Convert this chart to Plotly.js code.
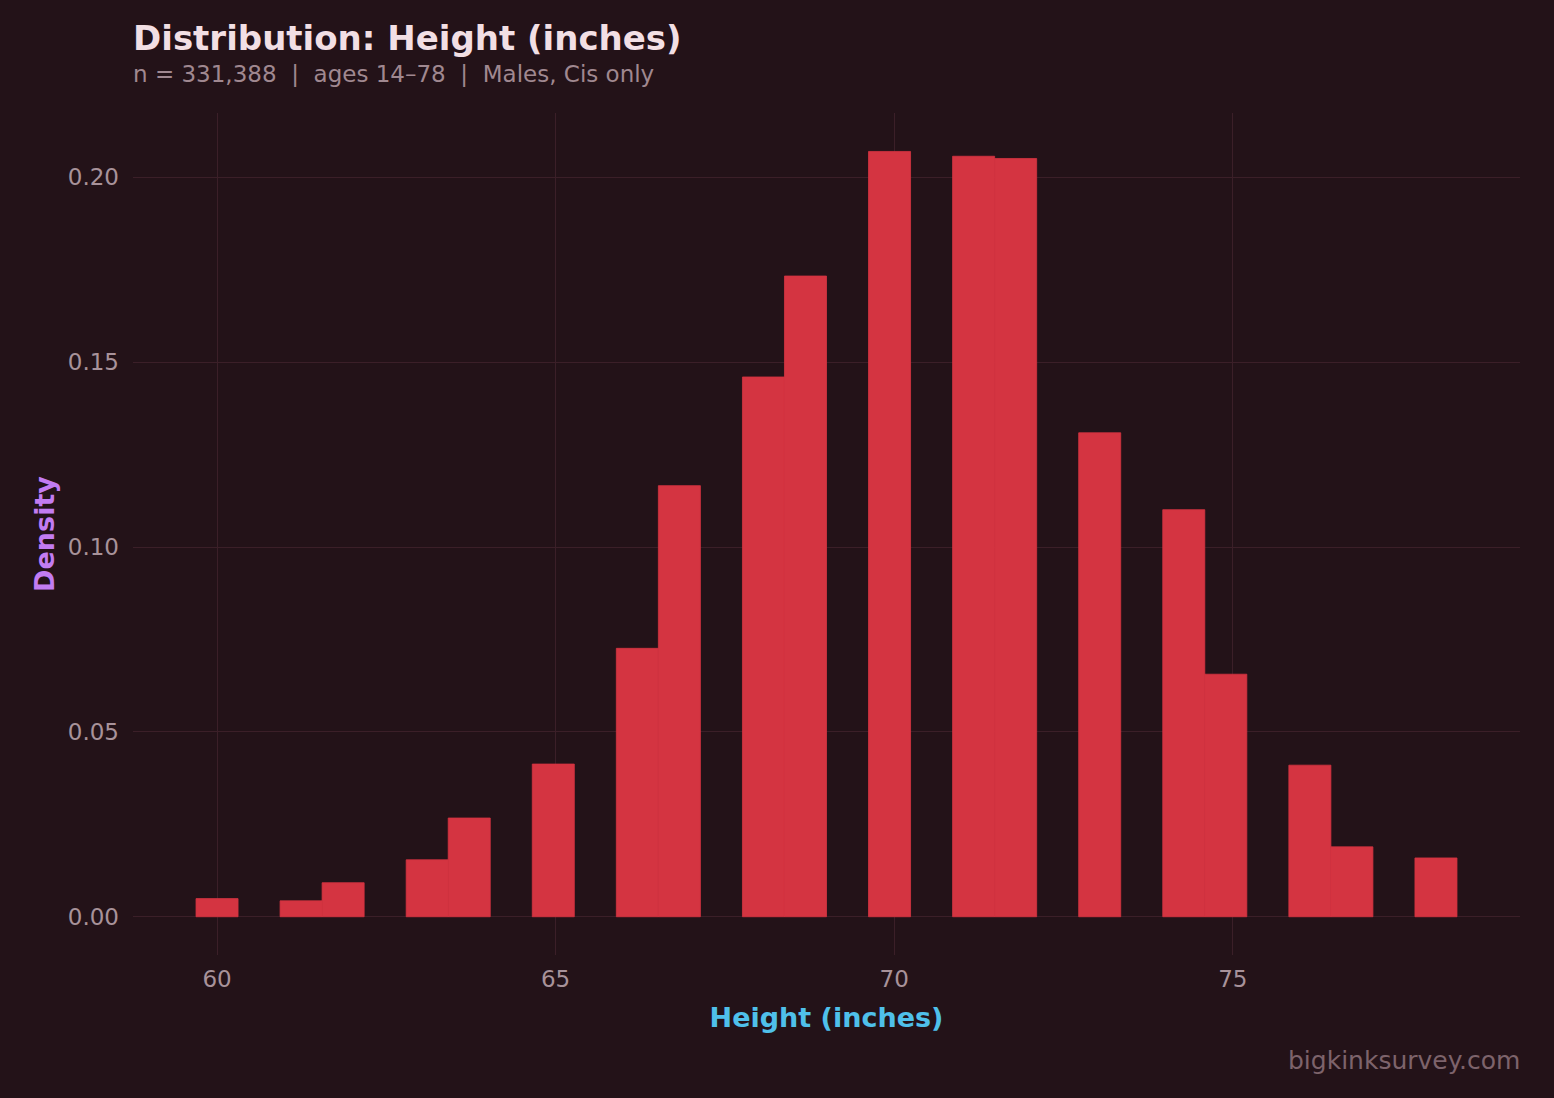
<!DOCTYPE html>
<html>
<head>
<meta charset="utf-8">
<script src="https://cdn.plot.ly/plotly-3.0.1.min.js"></script>
<style>
  html, body { margin: 0; padding: 0; background: #231218; }
  #chart { width: 1554px; height: 1098px; }
</style>
</head>
<body>
<div id="chart"></div>
<script>
// height in whole inches and the histogram density of its bin
const heights = [60, 61, 62, 63, 64, 65, 66, 67, 68, 69, 70, 71, 72, 73, 74, 75, 76, 77, 78];
const density = [0.0049, 0.0043, 0.0092, 0.0154, 0.0267, 0.0413, 0.0726, 0.1166, 0.1460, 0.1733,
                 0.2070, 0.2057, 0.2051, 0.1309, 0.1101, 0.0656, 0.0410, 0.0189, 0.0159];

// 30 bins over 60..78, centred on the min, right-closed
const nBins = 30;
const lo = 60, hi = 78;
const binWidth = (hi - lo) / (nBins - 1);
const binCenter = heights.map((h) => {
    const k = Math.ceil((h - lo) * (nBins - 1) / (hi - lo) - 0.5);
    return lo + k * binWidth;
});

const bg = '#231218';
const grid = '#3b1f28';
const tickColor = '#a8929a';
const barColor = '#d43441';

var data = [
    {
        x: binCenter,
        y: density,
        width: binWidth,
        type: 'bar',
        marker: { color: barColor, line: { color: barColor, width: 0.8 } },
        hoverinfo: 'none',
    }
];

var layout = {
    width: 1554,
    height: 1098,
    paper_bgcolor: bg,
    plot_bgcolor: bg,
    font: { family: 'DejaVu Sans', color: tickColor },
    margin: { l: 133, r: 34, t: 113, b: 143 },
    showlegend: false,
    title: {
        text: '<b>Distribution: Height (inches)</b>',
        font: { size: 34, color: '#f2dfe4' },
        x: 0, xref: 'paper', xanchor: 'left',
        y: 1 - 38 / 1098, yref: 'container', yanchor: 'middle',
    },
    xaxis: {
        range: [58.759, 79.241],
        tickvals: [60, 65, 70, 75],
        ticks: '',
        showline: false,
        zeroline: false,
        gridcolor: grid,
        gridwidth: 1,
        tickfont: { size: 23, color: tickColor },
        ticklabelstandoff: 8,
        title: {
            text: '<b>Height (inches)</b>',
            font: { size: 27, color: '#4fc0ea' },
            standoff: 17,
        },
    },
    yaxis: {
        range: [-0.01035, 0.2174],
        tickvals: [0, 0.05, 0.10, 0.15, 0.20],
        tickformat: '.2f',
        ticks: '',
        showline: false,
        zeroline: false,
        gridcolor: grid,
        gridwidth: 1,
        tickfont: { size: 23, color: tickColor },
        ticklabelstandoff: 13,
        title: {
            text: '<b>Density</b>',
            font: { size: 27, color: '#c27cf2' },
            standoff: 5,
        },
    },
    annotations: [
        {
            text: 'n = 331,388  |  ages 14–78  |  Males, Cis only',
            xref: 'paper', yref: 'paper',
            x: 0, y: (955 - 74) / 842, xshift: -2,
            xanchor: 'left', yanchor: 'middle',
            showarrow: false,
            font: { size: 23, color: '#a08890' },
        },
        {
            text: 'bigkinksurvey.com',
            xref: 'paper', yref: 'paper',
            x: 1, y: (955 - 1060) / 842, xshift: 2,
            xanchor: 'right', yanchor: 'middle',
            showarrow: false,
            font: { size: 25, color: '#7d636b' },
        },
    ],
};

Plotly.newPlot('chart', data, layout, { displayModeBar: false, staticPlot: true });
</script>
</body>
</html>
